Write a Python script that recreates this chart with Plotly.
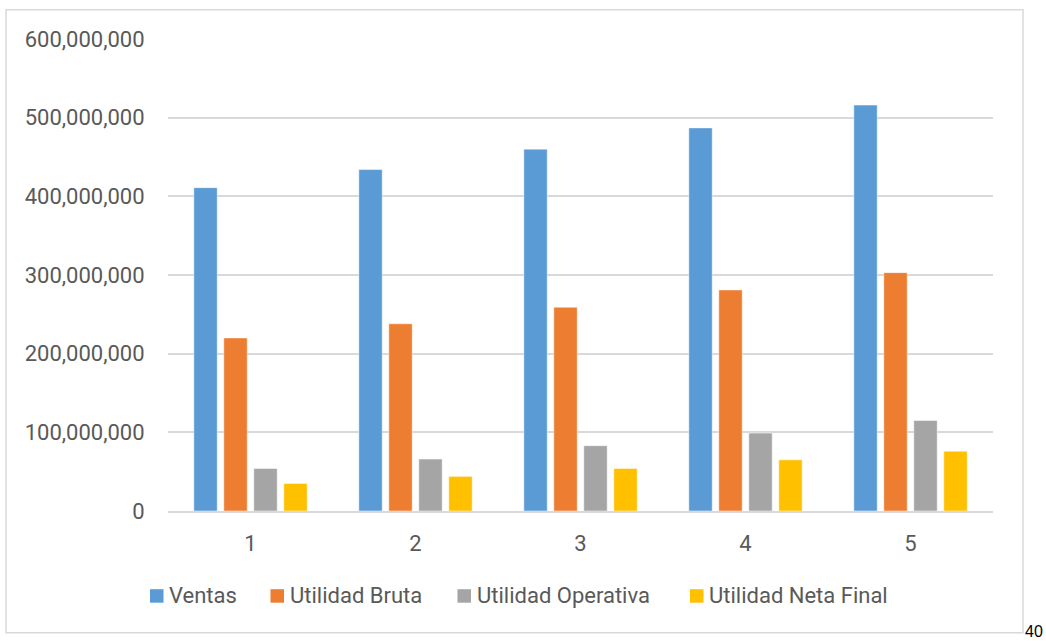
import plotly.graph_objects as go

# Data
periodos = ["1", "2", "3", "4", "5"]
ventas = [411e6, 434e6, 460e6, 487e6, 516e6]
utilidad_bruta = [220e6, 238e6, 259e6, 281e6, 303e6]
utilidad_operativa = [54e6, 66e6, 83e6, 99e6, 115e6]
utilidad_neta = [35e6, 44e6, 54e6, 65e6, 76e6]

series_names = ["Ventas", "Utilidad Bruta", "Utilidad Operativa", "Utilidad Neta Final"]
series_values = [ventas, utilidad_bruta, utilidad_operativa, utilidad_neta]
series_colors = ["#5B9BD5", "#ED7D31", "#A5A5A5", "#FFC000"]

y_ticks = [0, 100e6, 200e6, 300e6, 400e6, 500e6, 600e6]
y_tick_text = ["0", "100,000,000", "200,000,000", "300,000,000",
               "400,000,000", "500,000,000", "600,000,000"]

FONT = "Roboto"
TEXT_GREY = "#595959"
GRID = "#D9D9D9"

# Plot-area geometry in pixels (used to place legend, frame and page number)
W, H = 1046, 641
PL, PR, PT, PB = 168, 993, 39.3, 511.3


def px(xp):
    return (xp - PL) / (PR - PL)


def py(yp):
    return (PB - yp) / (PB - PT)


fig = go.Figure()
for name, vals, col in zip(series_names, series_values, series_colors):
    fig.add_trace(go.Bar(
        x=periodos, y=vals, name=name,
        marker=dict(color=col, line=dict(color="rgba(255,255,255,0.6)", width=0.8)),
        showlegend=False,
    ))

# Legend: coloured squares followed by series names
legend_square_x = [150, 270.5, 457.5, 690]
for name, col, sx in zip(series_names, series_colors, legend_square_x):
    fig.add_shape(type="rect", xref="paper", yref="paper",
                  x0=px(sx), x1=px(sx + 13.5), y0=py(603), y1=py(589.5),
                  fillcolor=col, line=dict(width=0))
    fig.add_annotation(xref="paper", yref="paper", x=px(sx + 17), y=py(596),
                       xanchor="left", yanchor="middle", showarrow=False,
                       text=name, font=dict(family=FONT, size=22, color=TEXT_GREY))

# Chart frame
fig.add_shape(type="rect", xref="paper", yref="paper",
              x0=px(6), x1=px(1023), y0=py(633), y1=py(10),
              line=dict(color=GRID, width=1.5), fillcolor="rgba(0,0,0,0)", layer="below")

# Page number outside the frame
fig.add_annotation(xref="paper", yref="paper", x=px(1024), y=py(641),
                   xanchor="left", yanchor="bottom", showarrow=False, text="40",
                   font=dict(family="Liberation Sans", size=16, color="#000000"),
                   borderpad=0)

fig.update_layout(
    width=W, height=H,
    margin=dict(l=PL, r=W - PR, t=PT, b=H - PB),
    paper_bgcolor="white", plot_bgcolor="white",
    barmode="group", bargap=0.273, bargroupgap=0.22,
    font=dict(family=FONT, size=22, color=TEXT_GREY),
    showlegend=False,
)
fig.update_xaxes(
    type="category", showgrid=False, showline=True, linecolor=GRID, linewidth=1.5,
    ticks="outside", ticklen=12, tickcolor="rgba(0,0,0,0)",
    tickfont=dict(family=FONT, size=22, color=TEXT_GREY),
)
fig.update_yaxes(
    range=[0, 600e6], tickvals=y_ticks, ticktext=y_tick_text,
    showgrid=True, gridcolor=GRID, gridwidth=1.5, zeroline=False, showline=False,
    ticks="outside", ticklen=18, tickcolor="rgba(0,0,0,0)",
    tickfont=dict(family=FONT, size=22, color=TEXT_GREY),
)

fig.write_html("out.html")
